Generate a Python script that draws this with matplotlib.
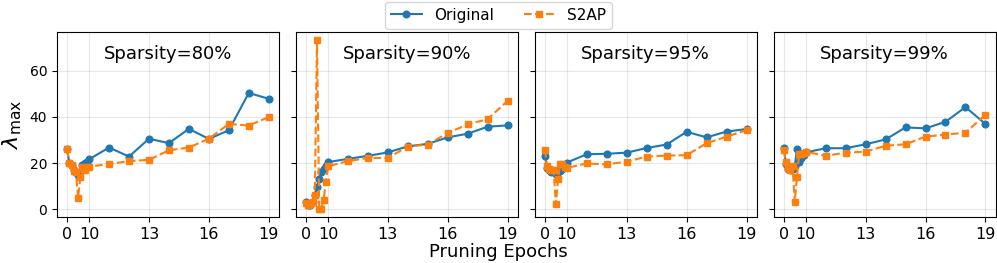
import numpy as np
import matplotlib.pyplot as plt

epochs = list(range(20))
titles = ['Sparsity=80%', 'Sparsity=90%', 'Sparsity=95%', 'Sparsity=99%']

orig_80 = [26, 20, 19, 17, 16, 15, 16, 19, 20, 20.5, 21.6, 26.7, 22.8, 30.5, 28.6, 34.8, 30.4, 34.2, 50.3, 47.8]
s2ap_80 = [26, 19.8, 19.2, 16.5, 16.3, 4.9, 13.9, 18.3, 17, 18.3, 18.4, 19.6, 20.8, 21.4, 25.5, 26.7, 30.5, 36.9, 36.2, 39.9]

orig_90 = [3, 2, 2, 3, 6, 9.5, 13.3, 16.3, 17.3, 18.5, 20.4, 21.8, 23.1, 24.6, 27.2, 28.3, 31.1, 32.7, 35.7, 36.3]
s2ap_90 = [2.9, 1.7, 2.2, 3, 6, 73, 0.3, 0.3, 3.9, 11.7, 18.6, 20.8, 22.2, 22.2, 27.1, 28, 33, 36.7, 39, 46.9]

orig_95 = [23.2, 17.8, 17, 16.3, 16, 15.4, 16, 16.6, 17.5, 18.6, 20.2, 23.8, 24, 24.5, 26.5, 28, 33.5, 31.1, 33.6, 34.7]
s2ap_95 = [25.8, 18.5, 17.5, 17, 16.8, 2.1, 13.2, 19.6, 19.4, 18.2, 17.9, 19.8, 19.4, 20.6, 22.8, 23.2, 23.4, 28.6, 31.4, 34.2]

orig_99 = [26.5, 19.5, 17.5, 17, 17.5, 18.5, 26, 20.3, 22, 23.6, 24.6, 26.4, 26.4, 28.1, 30.2, 35.4, 35, 37.8, 44.2, 36.9]
s2ap_99 = [25.6, 20.4, 17.8, 17, 18.5, 3.1, 13.9, 23.8, 23.8, 24.3, 24.9, 23.1, 24.5, 24.9, 27.5, 28.1, 31.4, 32.3, 33.1, 40.9]

originals = [orig_80, orig_90, orig_95, orig_99]
s2aps = [s2ap_80, s2ap_90, s2ap_95, s2ap_99]


# first 10 epochs squeezed into about one epoch of width
def fwd(x):
    x = np.asarray(x, dtype=float)
    return np.where(x < 10, x * 0.11, 1.1 + (x - 10))


def inv(y):
    y = np.asarray(y, dtype=float)
    return np.where(y < 1.1, y / 0.11, y - 1.1 + 10)


fig, axes = plt.subplots(1, 4, figsize=(9.97, 2.63), dpi=100, sharey=True)
plt.subplots_adjust(left=0.0572, right=0.9985, top=0.878, bottom=0.175, wspace=0.077)

for i, ax in enumerate(axes):
    ax.set_xscale('function', functions=(fwd, inv))
    l1, = ax.plot(epochs, originals[i], '-o', color='#1f77b4', markersize=4.8, label='Original')
    l2, = ax.plot(epochs, s2aps[i], '--s', color='#ff7f0e', markersize=4.8, label='S2AP')
    ax.set_xticks([0, 10, 13, 16, 19])
    ax.set_xticklabels(['0', '10', '13', '16', '19'])
    ax.tick_params(axis='x', labelsize=11.5)
    ax.tick_params(axis='y', labelsize=10)
    ax.set_yticks([0, 20, 40, 60])
    ax.grid(True, alpha=0.3)
    ax.text(0.5, 0.88, titles[i], transform=ax.transAxes, ha='center', va='center', fontsize=13)

axes[0].set_ylabel(r'$\lambda_{\max}$', fontsize=16)
fig.text(0.5, 0.04, 'Pruning Epochs', ha='center', va='center', fontsize=13)
fig.legend([l1, l2], ['Original', 'S2AP'], loc='upper center', ncol=2,
           bbox_to_anchor=(0.5, 1.0), borderaxespad=0.1, fontsize=11,
           handlelength=2.0, columnspacing=2.0)

plt.savefig('out.png')
